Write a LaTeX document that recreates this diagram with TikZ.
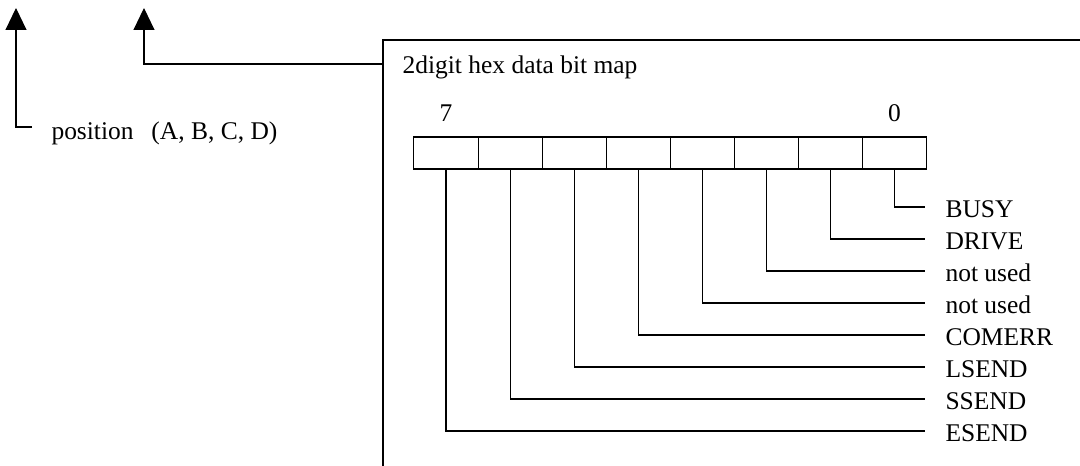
\documentclass[tikz,border=0pt]{standalone}
\usepackage{fontspec}
\setmainfont{Liberation Serif}
\usetikzlibrary{positioning}
\usetikzlibrary{arrows.meta}

\begin{document}
\begin{tikzpicture}[
                          x=0.02cm, y=-0.02cm,
                          line width=0.6pt,
                          every node/.style={font=\fontsize{14.5}{17}\selectfont},
                          bitcell/.style={rectangle, draw, outer sep=0pt, minimum width=1.282cm, minimum height=0.64cm},
                          bitlabel/.style={anchor=west, inner xsep=0.4cm, inner ysep=0pt, text height=12.5pt, text depth=0pt},
                          mapframe/.style={rectangle, draw, anchor=north west, outer sep=0pt, minimum width=14.5cm, minimum height=9cm},
                          uparrow/.style={-{Triangle[length=0.44cm,width=0.42cm]}},
                      ]
                      \useasboundingbox (0,0) rectangle (1080,466);

                      %Nodes
                      \coordinate (postip) at (16,8);
                      \coordinate (hextip) at (144,8);
                      \node[anchor=west, inner xsep=0.38cm, inner ysep=0pt, text height=14.7pt, text depth=0pt]
                                            (pos)     at (32,127)             {position\hspace{0.7em}(A, B, C, D)};
                      \node[mapframe]       (frame)   at (383,40)             {};
                      \node[anchor=base west, inner sep=0pt]
                                            (title)   at (402,74)             {2digit hex data bit map};

                      \node[bitcell]        (c7)      at (446,153)            {};
                      \node[bitcell]        (c6)      [right=0pt of c7]       {};
                      \node[bitcell]        (c5)      [right=0pt of c6]       {};
                      \node[bitcell]        (c4)      [right=0pt of c5]       {};
                      \node[bitcell]        (c3)      [right=0pt of c4]       {};
                      \node[bitcell]        (c2)      [right=0pt of c3]       {};
                      \node[bitcell]        (c1)      [right=0pt of c2]       {};
                      \node[bitcell]        (c0)      [right=0pt of c1]       {};
                      \node[inner sep=0pt]  (msb)     [above=0.3cm of c7]     {7};
                      \node[inner sep=0pt]  (lsb)     [above=0.3cm of c0]     {0};

                      \node[bitlabel]       (busy)    at (925,207)            {BUSY};
                      \node[bitlabel]       (drive)   at (925,239)            {DRIVE};
                      \node[bitlabel]       (unused2) at (925,271)            {not used};
                      \node[bitlabel]       (unused3) at (925,303)            {not used};
                      \node[bitlabel]       (comerr)  at (925,335)            {COMERR};
                      \node[bitlabel]       (lsend)   at (925,367)            {LSEND};
                      \node[bitlabel]       (ssend)   at (925,399)            {SSEND};
                      \node[bitlabel]       (esend)   at (925,431)            {ESEND};

                      %Lines
                      \draw[uparrow] (pos.west) -| (postip);
                      \draw[uparrow] ([yshift=-0.48cm]frame.north west) -| (hextip);
                      \draw (c0.south) |- (busy.west);
                      \draw (c1.south) |- (drive.west);
                      \draw (c2.south) |- (unused2.west);
                      \draw (c3.south) |- (unused3.west);
                      \draw (c4.south) |- (comerr.west);
                      \draw (c5.south) |- (lsend.west);
                      \draw (c6.south) |- (ssend.west);
                      \draw (c7.south) |- (esend.west);
                  \end{tikzpicture}
\end{document}
